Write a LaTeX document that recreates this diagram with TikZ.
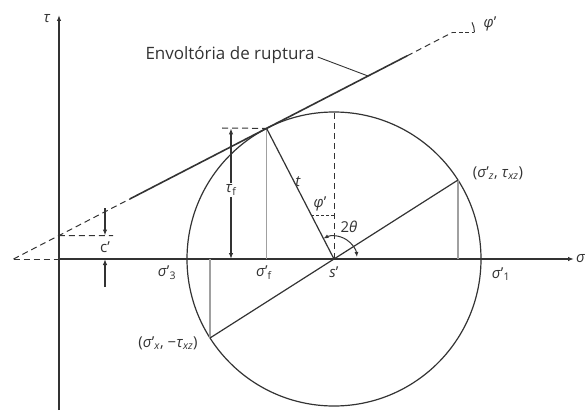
\documentclass[tikz,border=0pt]{standalone}
\usepackage{fontspec}
\setmainfont{Open Sans}
\usetikzlibrary{calc,arrows.meta}
\definecolor{ink}{HTML}{333333}
\definecolor{lightink}{HTML}{A0A0A0}
\newcommand{\gk}[1]{\textit{#1}}
\begin{document}
\begin{tikzpicture}[x=1pt,y=1pt,
  ln/.style={draw=ink,line width=1.2pt},
  dsh/.style={draw=ink,line width=1pt,dash pattern=on 6pt off 4pt},
  gry/.style={draw=lightink,line width=1.4pt},
  arr/.style={ln,-{Latex[length=6pt,width=4.5pt]}},
  lab/.style={text=ink,inner sep=1pt,font=\fontsize{15}{17}\selectfont},
]
\useasboundingbox (0,0) rectangle (585,410);
% key points
\def\ph{27.3}
\coordinate (C) at (334,151);
\coordinate (O) at (59,151);
\coordinate (E0) at (13.5,151);
\coordinate (E1) at ($(E0)+(\ph:131)$);
\coordinate (E2) at ($(E0)+(\ph:443)$);
\coordinate (E3) at ($(E0)+(\ph:494)$);
\coordinate (Ec) at ($(E0)+(\ph:51.2)$);
\coordinate (El) at ($(E0)+(\ph:399)$);
\coordinate (T) at ($(C)+(90+\ph:147)$);
\coordinate (P1) at ($(C)+(32.5:147)$);
\coordinate (P2) at ($(C)+(212.5:147)$);
\coordinate (Top) at ($(C)+(0,147)$);
\coordinate (TauTop) at (59,395);
\coordinate (TauBot) at (59,0);
\coordinate (SigEnd) at (574,151);
% axes
\draw[arr] (TauBot) -- (TauTop);
\node[lab] (tau) at (47,391) {\gk{τ}};
\draw[dsh] (E0) -- (O);
\draw[arr] (O) -- (SigEnd);
\node[lab,anchor=west] (sig) at (575,151) {\gk{σ}};
% circle
\draw[ln] (C) circle[radius=147];
% gray verticals
\draw[gry] (T) -- (T |- C);
\draw[gry] (P1) -- (P1 |- C);
\draw[gry] (P2) -- (P2 |- C);
% envelope
\draw[dsh] (E0) -- (E1);
\draw[ln,line width=1.6pt] (E1) -- (E2);
\draw[dsh] (E2) -- (E3);
\coordinate (Eh) at ($(E3)+(22,0)$);
\draw[dsh,dash pattern=on 4pt off 2.5pt] (E3) -- (Eh);
\draw[ln,line width=1pt] (Eh) arc[start angle=0,end angle=\ph,radius=22];
\node[lab] (phtop) at (490,386) {\gk{φ}'};
\node[lab,font=\fontsize{17}{19}\selectfont] (env) at (230,355) {Envoltória de ruptura};
\draw[ln,line width=0.9pt] (env.east) ++(2,-2) coordinate (envl) -- (El);
% tau_f
\draw[dsh] (222,282) -- (T);
\node[lab] (tf) at (231,220) {\gk{τ}\textsubscript{f}};
\draw[arr] (tf.north) -- (tf.north |- T);
\draw[arr] (tf.south) -- (tf.south |- C);
% c'
\coordinate (Ce) at (113,174.5);
\draw[dsh] (Ec) -- (Ce);
\node[lab] (cp) at (105,163) {c'};
\coordinate (ca) at (105,202);
\coordinate (cb) at (105,123);
\draw[arr] (ca) -- (ca |- Ec);
\draw[arr] (cb) -- (cb |- C);
% t line, vertical, diameter
\draw[ln] (C) -- (T);
\draw[dsh] (C) -- (Top);
\draw[ln] (P2) -- (P1);
\node[lab] (tl) at (298,228) {\gk{t}};
\coordinate (ph1) at ($(C)+(-22.7,44)$);
\draw[dsh,dash pattern=on 3pt off 2pt] (ph1) -- (ph1 -| C);
\node[lab] (phm) at (320,206) {\gk{φ}'};
\draw[ln,line width=1pt,{Latex[length=5pt,width=4pt]}-{Latex[length=5pt,width=4pt]}] ($(C)+(90+\ph:23)$) arc[start angle=90+\ph,end angle=5,radius=23];
\node[lab] (tt) at (349,183) {2\gk{θ}};
% axis labels
\node[lab] (s3) at (167,137) {\gk{σ}'\textsubscript{3}};
\node[lab] (sf) at (264,137) {\gk{σ}'\textsubscript{f}};
\node[lab] (sp) at (334,138) {\gk{s}'};
\node[lab] (s1) at (501,136) {\gk{σ}'\textsubscript{1}};
\node[lab] (pz) at (498,237) {(\gk{σ}'\textsubscript{\gk{z}}, \gk{τ}\textsubscript{\gk{xz}})};
\node[lab] (px) at (168,67) {(\gk{σ}'\textsubscript{\gk{x}}, −\gk{τ}\textsubscript{\gk{xz}})};
\end{tikzpicture}
\end{document}
